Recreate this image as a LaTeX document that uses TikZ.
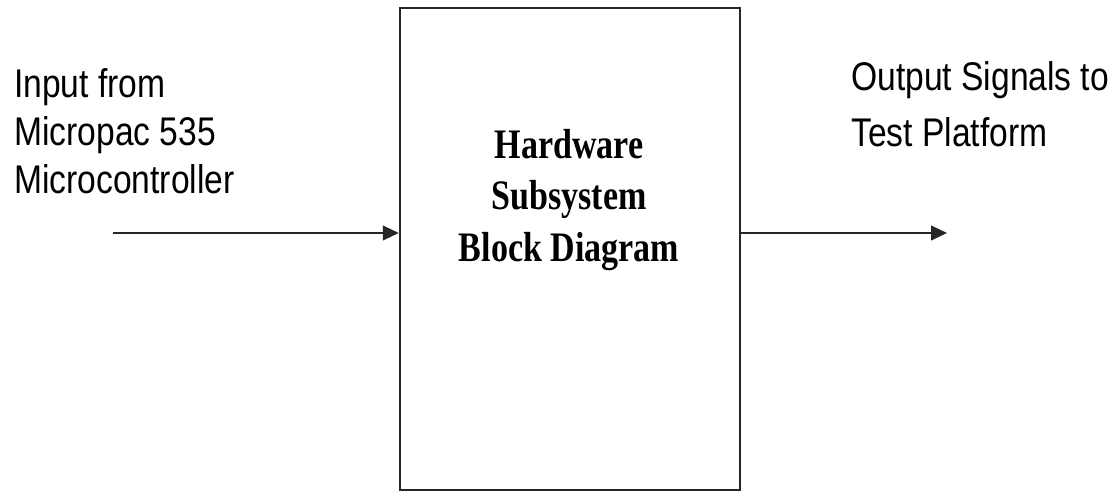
\documentclass[tikz,border=0pt]{standalone}
\usepackage{fontspec}
\usetikzlibrary{arrows.meta}
\newfontfamily\labelfont[FakeStretch=0.84]{Liberation Sans}
\newfontfamily\titlefont[FakeStretch=0.81]{Liberation Serif}
\begin{document}
\begin{tikzpicture}[x=0.75pt,y=-0.75pt,
  sidelabel/.style={inner sep=0pt, anchor=base west, align=left},
  block/.style={draw=black!85, line width=1.8pt, minimum width=255pt, minimum height=361.5pt, inner sep=0pt},
  title/.style={font=\titlefont\bfseries\fontsize{31.5}{38.5}\selectfont, align=center, inner sep=0pt, anchor=base},
  signal/.style={draw=black!85, line width=1.5pt, -{Triangle[length=12pt,width=11pt]}}]
\useasboundingbox (0,0) rectangle (1113,492);
% main block
\node[block] (hw) at (570,249) {};
\node[title] (hwtext) at (569,261) {Hardware\\Subsystem\\Block Diagram};
% input side
\node[sidelabel, font=\labelfont\fontsize{30}{36}\selectfont] (inlabel) at (14,193)
  {Input from\\Micropac 535\\Microcontroller};
\coordinate (insrc) at (113,233);
\draw[signal] (insrc) -- (insrc -| hw.west);
% output side
\node[sidelabel, font=\labelfont\fontsize{30}{42}\selectfont] (outlabel) at (851,146)
  {Output Signals to\\Test Platform};
\coordinate (outdst) at (947,233);
\draw[signal] (outdst -| hw.east) -- (outdst);
\end{tikzpicture}
\end{document}
